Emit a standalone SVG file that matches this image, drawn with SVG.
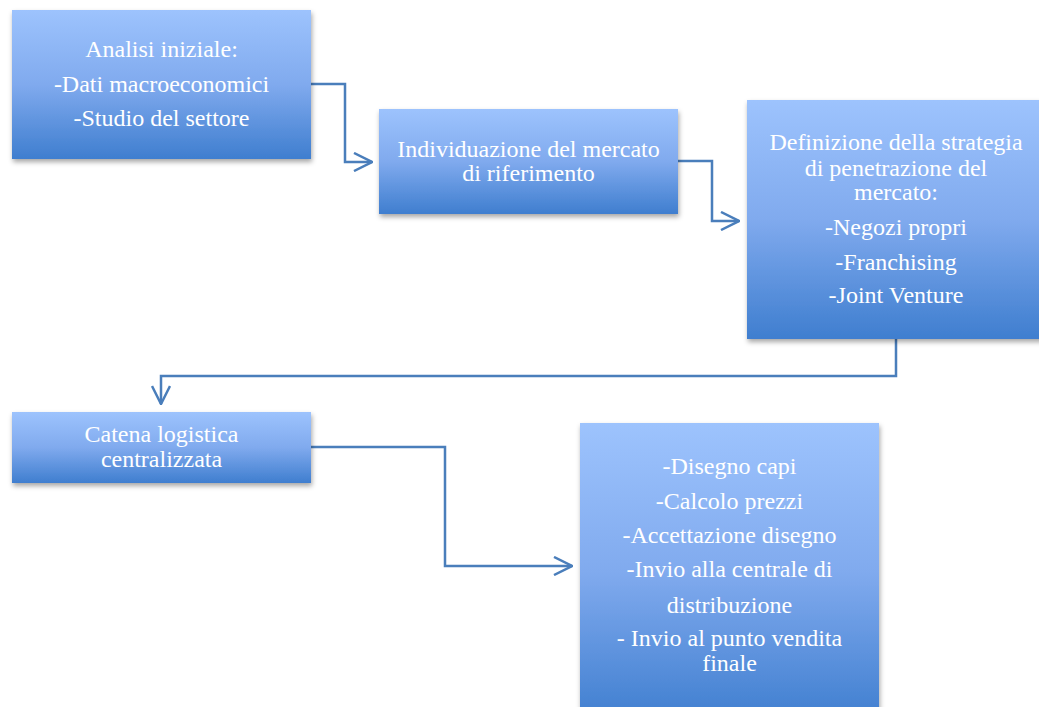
<svg xmlns="http://www.w3.org/2000/svg" width="1039" height="707" viewBox="0 0 1039 707">
  <defs>
    <linearGradient id="boxFill" x1="0" y1="0" x2="0" y2="1">
      <stop offset="0" stop-color="#9dc3fd"/>
      <stop offset="0.5" stop-color="#80aaee"/>
      <stop offset="1" stop-color="#3f7ecf"/>
    </linearGradient>
    <filter id="shadow" x="-10%" y="-10%" width="120%" height="130%">
      <feDropShadow dx="1" dy="3" stdDeviation="2.5" flood-color="#000" flood-opacity="0.35"/>
    </filter>
    <marker id="chevron" viewBox="0 0 20 20" refX="19" refY="10" markerWidth="20" markerHeight="20" markerUnits="userSpaceOnUse" orient="auto">
      <path d="M1,1 L19,10 L1,19" fill="none" stroke="#4a7ebb" stroke-width="2.5"/>
    </marker>
  </defs>
  <style>
    .box { fill: url(#boxFill); filter: url(#shadow); }
    .label { font-family: "Liberation Serif", "Times New Roman", serif; font-size: 24px; fill: #ffffff; text-anchor: middle; }
    .link { fill: none; stroke: #4a7ebb; stroke-width: 2.5; marker-end: url(#chevron); }
  </style>

  <rect width="1039" height="707" fill="#ffffff"/>

  <g id="connectors">
    <path class="link" d="M311,84 H345 V162 H372"/>
    <path class="link" d="M678,161 H712 V221 H739"/>
    <path class="link" d="M896,339 V376 H161 V404"/>
    <path class="link" d="M311,447 H445 V566 H572"/>
  </g>

  <g id="analisi-iniziale">
    <rect class="box" x="12" y="10" width="299" height="149"/>
    <text class="label" x="161.5" y="57">Analisi iniziale:</text>
    <text class="label" x="161.5" y="92">-Dati macroeconomici</text>
    <text class="label" x="161.5" y="126">-Studio del settore</text>
  </g>

  <g id="individuazione-mercato">
    <rect class="box" x="379" y="109" width="299" height="105"/>
    <text class="label" x="528.5" y="157">Individuazione del mercato</text>
    <text class="label" x="528.5" y="181">di riferimento</text>
  </g>

  <g id="strategia-penetrazione">
    <rect class="box" x="747" y="100" width="299" height="239"/>
    <text class="label" x="896" y="150">Definizione della strategia</text>
    <text class="label" x="896" y="176">di penetrazione del</text>
    <text class="label" x="896" y="200">mercato:</text>
    <text class="label" x="896" y="235">-Negozi propri</text>
    <text class="label" x="896" y="270">-Franchising</text>
    <text class="label" x="896" y="303">-Joint Venture</text>
  </g>

  <g id="catena-logistica">
    <rect class="box" x="12" y="412" width="299" height="71"/>
    <text class="label" x="161.5" y="442">Catena logistica</text>
    <text class="label" x="161.5" y="467">centralizzata</text>
  </g>

  <g id="fasi-operative">
    <rect class="box" x="580" y="423" width="299" height="300"/>
    <text class="label" x="729.5" y="474">-Disegno capi</text>
    <text class="label" x="729.5" y="509">-Calcolo prezzi</text>
    <text class="label" x="729.5" y="543">-Accettazione disegno</text>
    <text class="label" x="729.5" y="577">-Invio alla centrale di</text>
    <text class="label" x="729.5" y="613">distribuzione</text>
    <text class="label" x="729.5" y="646">- Invio al punto vendita</text>
    <text class="label" x="729.5" y="671">finale</text>
  </g>
</svg>
